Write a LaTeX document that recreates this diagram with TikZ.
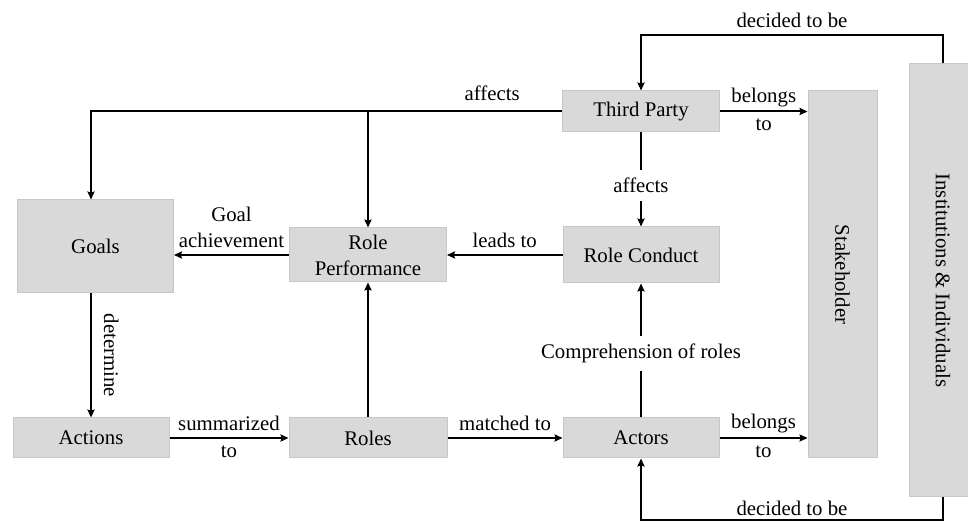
\documentclass[tikz,border=0pt]{standalone}
\usepackage{fontspec}
\setmainfont{Liberation Serif}
\usetikzlibrary{arrows.meta, positioning, calc}

\tikzset{
  box/.style={rectangle, draw=black!22, line width=0.5pt, fill=black!15, inner sep=0pt, align=center},
  flow/.style={->, line width=1pt},
  gap/.style={fill=white, inner sep=4pt},
}

\begin{document}
\begin{tikzpicture}[x=0.5pt, y=-0.5pt, >={Stealth[length=4pt, width=3.6pt, inset=0.6pt]}, font=\fontsize{10.4}{13}\selectfont]
    \useasboundingbox (0,0) rectangle (968,522);

    % Nodes
    \node (goals) [box, minimum width=78pt, minimum height=46.5pt] at (95.5,246.5) {Goals};
    \node (perf) [box, minimum width=78.5pt, minimum height=27pt] at (368,255) {Role\\Performance};
    \node (conduct) [box, minimum width=78pt, minimum height=28pt] at (641,255) {Role Conduct};
    \node (third) [box, minimum width=78.5pt, minimum height=20.5pt] at (641,111.5) {Third Party};
    \node (actions) [box, minimum width=78pt, minimum height=20pt] at (91,438) {Actions};
    \node (roles) [box, minimum width=79pt, minimum height=20pt] at (368,438) {Roles};
    \node (actors) [box, minimum width=78pt, minimum height=20pt] at (641,438) {Actors};
    \node (stake) [box, minimum width=34.5pt, minimum height=183.5pt] at (842.5,274.5) {\rotatebox{-90}{Stakeholder}};
    \node (inst) [box, minimum width=34pt, minimum height=216.5pt] at (943,280.5) {\rotatebox{-90}{Institutions \& Individuals}};

    \coordinate (topbend) at ($(third.north)+(0,-55)$);
    \coordinate (botbend) at ($(actors.south)+(0,62)$);

    % Edges
    \draw[flow] (third.west) -- node[above, pos=0.36, yshift=1.5pt] {affects} (perf.north |- third.west) -- (actions.north |- third.west) -- (actions.north |- goals.north);
    \draw[flow] (perf.north |- third.west) -- (perf.north);
    \draw[flow] (third.south) -- node[gap, pos=0.56] {affects} (conduct.north);
    \draw[flow] (conduct.west) -- node[above] {leads to} (perf.east);
    \draw[flow] (perf.west) -- node[above, align=center] {Goal\\achievement} (perf.west -| goals.east);
    \draw[flow] (actions.north |- goals.south) -- node[midway, rotate=-90, anchor=south, inner sep=6pt] {determine} (actions.north);
    \draw[flow] (actions) -- node[above] {summarized} node[below] {to} (roles);
    \draw[flow] (roles) -- (perf);
    \draw[flow] (roles) -- node[above] {matched to} (actors);
    \draw[flow] (actors) -- node[gap, pos=0.48] {Comprehension of roles} (conduct);
    \draw[flow] (third.east) -- node[above, inner sep=2pt] {belongs} node[below] {to} (third.east -| stake.west);
    \draw[flow] (actors.east) -- node[above, inner sep=2pt] {belongs} node[below] {to} (actors.east -| stake.west);
    \draw[flow] (inst.north) |- node[pos=0.75, above] {decided to be} (topbend) -- (third.north);
    \draw[flow] (inst.south) |- node[pos=0.75, above, inner sep=2pt] {decided to be} (botbend) -- (actors.south);
\end{tikzpicture}
\end{document}
